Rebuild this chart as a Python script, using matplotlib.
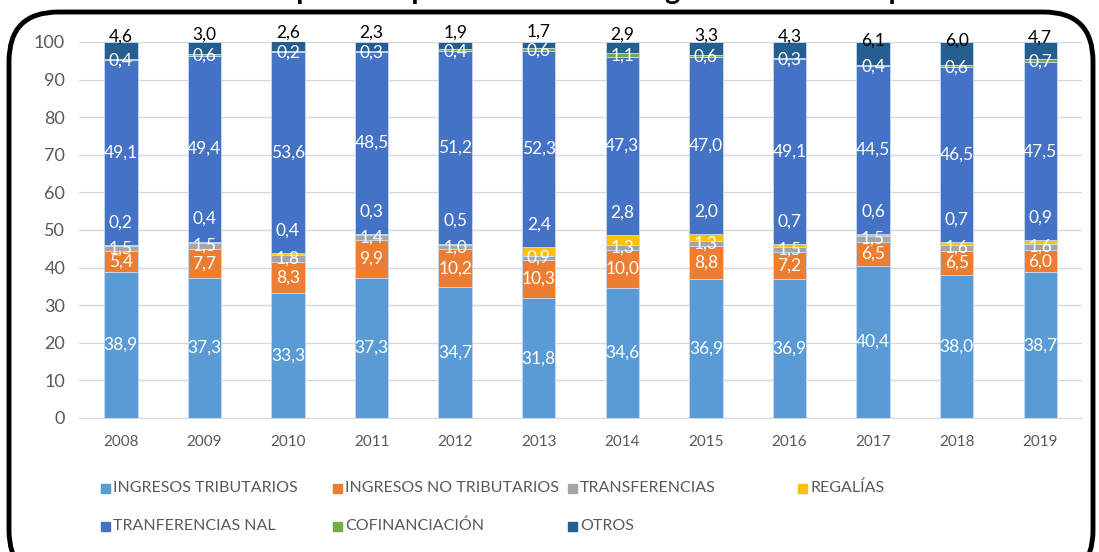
import numpy as np
import matplotlib
matplotlib.use("Agg")
import matplotlib.pyplot as plt
from matplotlib.patches import FancyBboxPatch, Rectangle

plt.rcParams['font.family'] = ['Lato', 'DejaVu Sans']

years = ["2008", "2009", "2010", "2011", "2012", "2013",
         "2014", "2015", "2016", "2017", "2018", "2019"]

ingresos_trib = [38.9, 37.3, 33.3, 37.3, 34.7, 31.8, 34.6, 36.9, 36.9, 40.4, 38.0, 38.7]
ingresos_no_trib = [5.4, 7.7, 8.3, 9.9, 10.2, 10.3, 10.0, 8.8, 7.2, 6.5, 6.5, 6.0]
transferencias = [1.5, 1.5, 1.8, 1.4, 1.0, 0.9, 1.3, 1.3, 1.5, 1.5, 1.6, 1.6]
regalias = [0.2, 0.4, 0.4, 0.3, 0.5, 2.4, 2.8, 2.0, 0.7, 0.6, 0.7, 0.9]
tranf_nal = [49.1, 49.4, 53.6, 48.5, 51.2, 52.3, 47.3, 47.0, 49.1, 44.5, 46.5, 47.5]
cofinanciacion = [0.4, 0.6, 0.2, 0.3, 0.4, 0.6, 1.1, 0.6, 0.3, 0.4, 0.6, 0.7]
otros = [4.6, 3.0, 2.6, 2.3, 1.9, 1.7, 2.9, 3.3, 4.3, 6.1, 6.0, 4.7]

series_names = ["INGRESOS TRIBUTARIOS", "INGRESOS NO TRIBUTARIOS", "TRANSFERENCIAS",
                "REGALÍAS", "TRANFERENCIAS NAL", "COFINANCIACIÓN", "OTROS"]
series = [ingresos_trib, ingresos_no_trib, transferencias, regalias,
          tranf_nal, cofinanciacion, otros]
colors = ["#5B9BD5", "#ED7D31", "#A5A5A5", "#FFC000", "#4472C4", "#70AD47", "#255E91"]

fig = plt.figure(figsize=(10.99, 5.52), dpi=100)
ax = fig.add_axes([0.0719, 0.2428, 0.9127, 0.6812])

x = np.arange(len(years))
bottom = np.zeros(len(years))
# label offsets per series (regalías labels sit above their thin segment)
label_dy = [0, 0, 0, 6.0, 0, -0.3, 3.5]
for k, (vals, col) in enumerate(zip(series, colors)):
    vals = np.array(vals)
    ax.bar(x, vals, 0.4, bottom=bottom, color=col, edgecolor="#C9D9EE",
           linewidth=0.6, zorder=3)
    for i in range(len(years)):
        if k == 3:
            yy = bottom[i] + vals[i] + label_dy[k]
        else:
            yy = bottom[i] + vals[i] / 2 + label_dy[k]
        txt = f"{vals[i]:.1f}".replace(".", ",")
        ax.text(x[i], yy, txt, ha="center", va="center", fontsize=12.5,
                color="black" if k == 6 else "white", zorder=5, clip_on=False)
    bottom += vals

ax.set_xlim(-0.5, len(years) - 0.5)
ax.set_ylim(0, 100)
ax.set_yticks(range(0, 101, 10))
ax.set_xticks(x)
ax.set_xticklabels(years)
ax.grid(axis="y", color="#D9D9D9", linewidth=1, zorder=0)
for s in ax.spines.values():
    s.set_visible(False)
ax.spines["bottom"].set_visible(True)
ax.spines["bottom"].set_color("#D9D9D9")
ax.tick_params(axis="both", length=0, colors="#595959")
ax.tick_params(axis="y", labelsize=13, pad=10)
ax.tick_params(axis="x", labelsize=11, pad=12)

# legend drawn in figure coords, laid out like the spreadsheet legend
W, H = 1099, 552
leg_pos = [(101, 488), (333, 488), (568, 488), (798, 488),
           (101, 526), (333, 526), (568, 526)]
for (px, py), name, col in zip(leg_pos, series_names, colors):
    fig.patches.append(Rectangle((px / W, 1 - (py + 4.5) / H), 9 / W, 9 / H,
                                 transform=fig.transFigure, color=col))
    fig.text((px + 12) / W, 1 - py / H, name, ha="left", va="center",
             fontsize=11.5, color="#595959")

# rounded frame around the chart
frame = FancyBboxPatch((9 / W, -0.05), (1084) / W, 1 - 12 / H + 0.05,
                       boxstyle="round,pad=0,rounding_size=0.045",
                       transform=fig.transFigure, fill=False,
                       edgecolor="black", linewidth=3.5, mutation_aspect=W / H)
fig.patches.append(frame)

# title, mostly cut off by the top of the image
fig.text(0.53, 1 + 1 / H, "Composición porcentual de los ingresos del municipio",
         ha="center", va="baseline", fontsize=21, fontweight="bold", color="black")

fig.savefig("out.png", dpi=100)
